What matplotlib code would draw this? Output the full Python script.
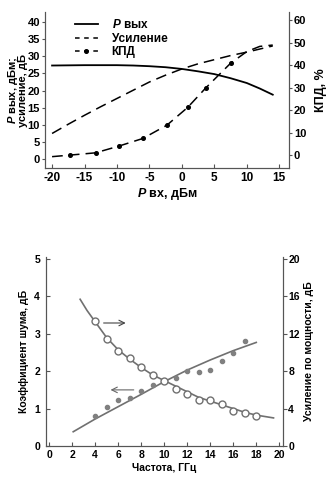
import numpy as np
import matplotlib
matplotlib.use("Agg")
import matplotlib.pyplot as plt
from matplotlib.lines import Line2D

plt.rcParams['font.family'] = ['Liberation Sans', 'DejaVu Sans']
plt.rcParams['font.weight'] = 'bold'
plt.rcParams['axes.labelweight'] = 'bold'
plt.rcParams['mathtext.fontset'] = 'custom'
plt.rcParams['mathtext.it'] = 'Liberation Sans:bold:italic'
plt.rcParams['mathtext.rm'] = 'Liberation Sans:bold'

# ---- top chart data (Pin, dBm) ----
pin = [-20, -17.5, -15, -12.5, -10, -7.5, -5, -2.5, 0, 2.5, 5, 7.5, 10, 12, 14]
pout = [27.3, 27.35, 27.4, 27.4, 27.4, 27.3, 27.1, 26.8, 26.3, 25.6, 24.8, 23.6, 22.2, 20.6, 18.8]
gain = [7.5, 10.2, 12.8, 15.3, 17.7, 20.1, 22.5, 24.5, 26.3, 27.8, 29.0, 30.2, 31.2, 32.1, 33.0]

eff_x = [-20, -17.2, -13.3, -9.7, -6.0, -2.3, 0.9, 3.7, 7.5, 10, 12, 14]
eff_y = [-0.7, 0.0, 1.0, 4.0, 7.4, 13.3, 21.2, 29.9, 40.8, 46.0, 48.3, 48.9]
eff_mark_x = [-17.2, -13.3, -9.7, -6.0, -2.3, 0.9, 3.7, 7.5]
eff_mark_y = [0.0, 1.0, 4.0, 7.4, 13.3, 21.2, 29.9, 40.8]

# ---- bottom chart data (frequency, GHz) ----
freq_pts = [4, 5, 6, 7, 8, 9, 10, 11, 12, 13, 14, 15, 16, 17, 18]
gain_pts = [13.4, 11.4, 10.2, 9.4, 8.5, 7.6, 7.0, 6.1, 5.6, 4.9, 4.9, 4.5, 3.7, 3.5, 3.25]
nf_freq = [4, 5, 6, 7, 8, 9, 10, 11, 12, 13, 14, 15, 16, 17]
nf_pts = [0.80, 1.05, 1.23, 1.28, 1.46, 1.63, 1.75, 1.81, 2.01, 1.99, 2.04, 2.28, 2.48, 2.82]

gain_fit_x = [2.7, 3.3, 4, 5, 6, 7, 8, 9, 10, 11, 12, 13, 14, 15, 16, 17, 18, 19.5]
gain_fit_y = [15.7, 14.5, 13.3, 11.6, 10.3, 9.3, 8.4, 7.6, 7.0, 6.4, 5.8, 5.2, 4.8, 4.4, 4.0, 3.6, 3.3, 3.0]
nf_fit_x = [2.1, 4, 6, 8, 10, 12, 14, 16, 18]
nf_fit_y = [0.38, 0.72, 1.05, 1.38, 1.72, 2.03, 2.30, 2.55, 2.77]

fig = plt.figure(figsize=(3.28, 4.79), dpi=100)

# ================= top chart =================
ax1 = fig.add_axes([0.137, 0.649, 0.744, 0.326])
ax1.plot(pin, pout, color='black', lw=1.3)
ax1.plot(pin, gain, color='black', lw=1.1, dashes=(7, 4))
ax1b = ax1.twinx()
ax1b.plot(eff_x, eff_y, color='black', lw=1.1, dashes=(7, 4))
ax1b.plot(eff_mark_x, eff_mark_y, 'o', color='black', ms=2.6)

ax1.set_xlim(-21.1, 16.5)
ax1.set_ylim(-2.6, 42.9)
ax1b.set_ylim(-5.8, 63.6)
ax1.set_xticks([-20, -15, -10, -5, 0, 5, 10, 15])
ax1.set_xticklabels(['-20', '-15', '-10', '-5', '0', '5', '10', '15'])
ax1.set_yticks(range(0, 41, 5))
ax1b.set_yticks(range(0, 61, 10))
for a in (ax1, ax1b):
    a.spines['top'].set_visible(False)
    for s in a.spines.values():
        s.set_color('#555555')
ax1.tick_params(axis='x', direction='in', length=3, labelsize=8.5, pad=3, color='#555555')
ax1.tick_params(axis='y', direction='out', length=2.5, labelsize=8, pad=1, color='#555555')
ax1b.tick_params(axis='y', direction='out', length=2.5, labelsize=8, pad=1, color='#555555')

ax1.set_xlabel('$P$ вх, дБм', fontsize=9, labelpad=1)
ax1.set_ylabel('$P$ вых, дБм;\nусиление, дБ', fontsize=8, linespacing=0.85)
ax1.yaxis.set_label_coords(-0.068, 0.5)
ax1b.set_ylabel('КПД, %', fontsize=9, labelpad=6)

handles = [
    Line2D([], [], color='black', lw=1.3),
    Line2D([], [], color='black', lw=1.1, dashes=(3, 3)),
    Line2D([], [], color='black', lw=1.1, dashes=(3, 3), marker='o', ms=2.6, markevery=[1]),
]
ax1.legend(handles, ['$P$ вых', 'Усиление', 'КПД'], loc='upper left',
           bbox_to_anchor=(0.08, 1.03), frameon=False, fontsize=8.5,
           handlelength=1.9, handletextpad=1.2, labelspacing=0.15)

# ================= bottom chart =================
ax2 = fig.add_axes([0.139, 0.069, 0.723, 0.394])
ax2b = ax2.twinx()
ax2.plot(nf_fit_x, nf_fit_y, color='#707070', lw=1.2)
ax2.plot(nf_freq, nf_pts, 'o', color='#808080', ms=3)
ax2b.plot(gain_fit_x, gain_fit_y, color='#707070', lw=1.2)
ax2b.plot(freq_pts, gain_pts, 'o', mfc='white', mec='#707070', mew=1.0, ms=5)

ax2.annotate('', xy=(6.9, 3.29), xytext=(4.5, 3.29),
             arrowprops=dict(arrowstyle='->', color='#444444', lw=0.8))
ax2.annotate('', xy=(5.1, 1.5), xytext=(7.6, 1.5),
             arrowprops=dict(arrowstyle='->', color='#666666', lw=0.8))

ax2.set_xlim(-0.3, 20.3)
ax2.set_ylim(0, 5.05)
ax2b.set_ylim(0, 20.2)
ax2.set_xticks(range(0, 21, 2))
ax2.set_yticks(range(0, 6))
ax2b.set_yticks(range(0, 21, 4))
for a in (ax2, ax2b):
    a.spines['top'].set_visible(False)
    for s in a.spines.values():
        s.set_color('#555555')
ax2.tick_params(axis='x', direction='in', length=3, labelsize=7.5, pad=3, color='#555555')
ax2.tick_params(axis='y', direction='in', length=3, labelsize=7.5, pad=4, color='#555555')
ax2b.tick_params(axis='y', direction='out', length=3, labelsize=7.5, pad=1, color='#555555')

ax2.set_xlabel('Частота, ГГц', fontsize=7.5, labelpad=2)
ax2.set_ylabel('Коэффициент шума, дБ', fontsize=7.5, labelpad=4)
ax2b.set_ylabel('Усиление по мощности, дБ', fontsize=7.5, labelpad=3)

fig.savefig('out.png', dpi=100)
